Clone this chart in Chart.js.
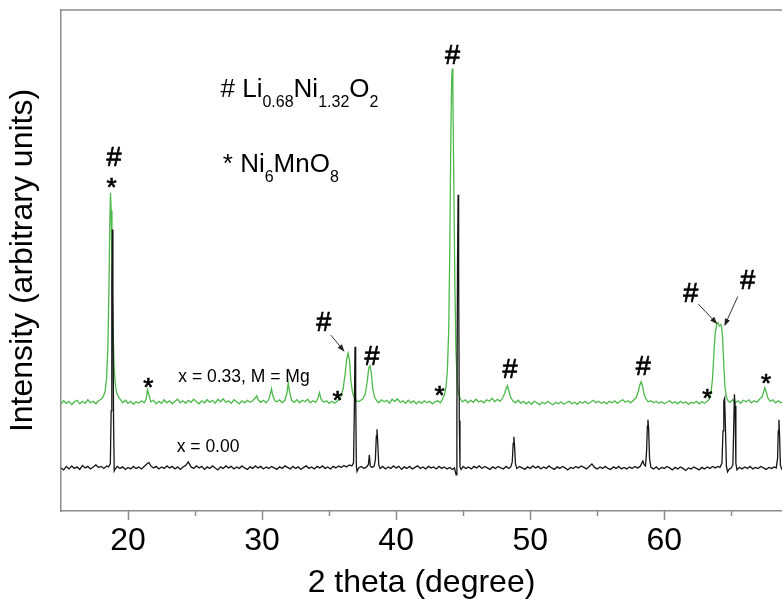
<!DOCTYPE html>
<html>
<head>
<meta charset="utf-8">
<script src="https://cdn.jsdelivr.net/npm/chart.js@4.4.1/dist/chart.umd.min.js"></script>
<style>
  html, body { margin: 0; padding: 0; background: #fff; }
  #wrap { width: 782px; height: 602px; }
</style>
</head>
<body>
<div id="wrap"><canvas id="xrd" width="782" height="602"></canvas></div>
<script>
// 2 theta (deg) vs intensity (a.u.)
const mgDopedScan = [
  [15.0, 21.4], [15.2, 22.0], [15.4, 21.5], [15.6, 21.9], [15.8, 21.2], [16.0, 21.8], [16.2, 22.1], [16.4, 21.4],
  [16.6, 21.9], [16.8, 21.5], [17.0, 22.2], [17.2, 21.6], [17.4, 21.9], [17.6, 21.4], [17.8, 22.0], [18.0, 22.3],
  [18.15, 22.8], [18.3, 24.0], [18.4, 26.5], [18.5, 33], [18.58, 45], [18.64, 57], [18.69, 63.5], [18.74, 60],
  [18.8, 50], [18.88, 37], [18.96, 29], [19.05, 25.2], [19.15, 23.6], [19.3, 22.7], [19.45, 22.2], [19.6, 21.6],
  [19.8, 22.1], [20.0, 21.5], [20.2, 21.9], [20.4, 21.3], [20.6, 21.8], [20.8, 21.5], [21.0, 22.0], [21.2, 21.6],
  [21.35, 22.3], [21.45, 24.2], [21.55, 23.3], [21.7, 21.8], [21.9, 22.1], [22.1, 21.4], [22.3, 21.9], [22.5, 21.5],
  [22.7, 22.2], [22.9, 21.6], [23.1, 22.0], [23.3, 21.4], [23.5, 21.9], [23.7, 22.3], [23.9, 21.6], [24.1, 22.0],
  [24.3, 21.5], [24.5, 22.1], [24.7, 21.7], [24.9, 22.3], [25.1, 21.8], [25.3, 21.4], [25.5, 22.0], [25.7, 21.6],
  [25.9, 22.2], [26.1, 21.7], [26.3, 22.1], [26.5, 21.5], [26.7, 22.3], [26.9, 21.8], [27.1, 22.4], [27.3, 21.7],
  [27.5, 22.0], [27.7, 21.5], [27.9, 22.2], [28.1, 21.8], [28.3, 21.4], [28.5, 22.0], [28.7, 21.6], [28.9, 22.1],
  [29.1, 21.7], [29.3, 22.0], [29.5, 22.6], [29.6, 23.0], [29.7, 22.2], [29.9, 21.7], [30.1, 22.1], [30.3, 21.6],
  [30.5, 22.3], [30.62, 23.4], [30.7, 24.4], [30.8, 23.0], [30.95, 22.0], [31.1, 21.8], [31.3, 22.2], [31.5, 21.6],
  [31.7, 22.1], [31.85, 23.5], [31.95, 25.6], [32.05, 23.8], [32.2, 22.1], [32.4, 21.7], [32.6, 22.2], [32.8, 21.6],
  [33.0, 22.1], [33.2, 21.8], [33.4, 22.3], [33.6, 21.6], [33.8, 22.0], [34.0, 21.7], [34.15, 22.4], [34.28, 23.6],
  [34.4, 22.3], [34.6, 21.7], [34.8, 22.0], [35.0, 21.5], [35.2, 21.9], [35.4, 21.5], [35.6, 21.9], [35.75, 22.4],
  [35.9, 23.0], [36.05, 24.5], [36.2, 27.5], [36.32, 30.5], [36.42, 31.5], [36.52, 30.0], [36.62, 26.0], [36.75, 23.6],
  [36.9, 22.5], [37.05, 22.0], [37.2, 21.8], [37.35, 22.1], [37.5, 22.3], [37.7, 23.4], [37.85, 26.0], [37.96, 28.6],
  [38.05, 29.0], [38.15, 27.5], [38.25, 24.5], [38.38, 22.8], [38.55, 22.0], [38.7, 21.6], [38.9, 22.2], [39.1, 21.8],
  [39.3, 22.1], [39.5, 21.5], [39.7, 22.3], [39.9, 21.9], [40.1, 22.4], [40.3, 21.7], [40.5, 22.0], [40.7, 21.5],
  [40.9, 22.1], [41.1, 21.6], [41.3, 22.0], [41.5, 21.4], [41.7, 21.9], [41.9, 21.5], [42.1, 22.0], [42.3, 21.6],
  [42.5, 21.9], [42.7, 21.4], [42.9, 21.8], [43.1, 22.0], [43.3, 21.6], [43.45, 22.3], [43.6, 23.2], [43.72, 24.8],
  [43.82, 28], [43.92, 36], [44.0, 52], [44.08, 75], [44.14, 86], [44.18, 88.3], [44.23, 84], [44.3, 66],
  [44.38, 45], [44.46, 32], [44.55, 26], [44.65, 23.5], [44.78, 22.4], [44.95, 21.8], [45.15, 22.2], [45.35, 21.6],
  [45.55, 22.1], [45.75, 21.7], [45.95, 22.3], [46.15, 21.8], [46.35, 22.0], [46.55, 21.6], [46.75, 22.2], [46.95, 21.9],
  [47.15, 22.5], [47.35, 21.8], [47.55, 22.3], [47.75, 21.9], [47.95, 22.6], [48.1, 23.5], [48.22, 24.6], [48.3, 25.0],
  [48.4, 24.0], [48.52, 22.8], [48.7, 22.0], [48.9, 21.6], [49.1, 22.1], [49.3, 21.5], [49.5, 21.9], [49.7, 21.4],
  [49.9, 21.8], [50.1, 21.3], [50.3, 21.9], [50.5, 21.6], [50.7, 21.2], [50.9, 21.7], [51.1, 21.4], [51.3, 21.9],
  [51.5, 21.5], [51.7, 21.2], [51.9, 21.7], [52.1, 21.4], [52.3, 21.8], [52.5, 21.3], [52.7, 21.6], [52.9, 21.9],
  [53.1, 21.4], [53.3, 21.7], [53.5, 21.3], [53.7, 21.8], [53.9, 21.5], [54.1, 21.9], [54.3, 21.4], [54.5, 21.7],
  [54.7, 22.1], [54.9, 21.6], [55.1, 21.9], [55.3, 21.5], [55.5, 21.8], [55.7, 21.4], [55.9, 21.9], [56.1, 21.6],
  [56.3, 22.0], [56.5, 21.5], [56.7, 21.9], [56.9, 22.2], [57.1, 21.7], [57.3, 22.0], [57.5, 21.6], [57.7, 22.1],
  [57.9, 22.6], [58.05, 23.8], [58.18, 25.2], [58.27, 25.8], [58.38, 24.9], [58.5, 23.2], [58.65, 22.3], [58.8, 21.8],
  [59.0, 22.0], [59.2, 21.6], [59.4, 21.9], [59.6, 21.5], [59.8, 21.8], [60.0, 21.4], [60.2, 21.7], [60.4, 22.0],
  [60.6, 21.5], [60.8, 21.8], [61.0, 21.4], [61.2, 21.9], [61.4, 21.5], [61.6, 21.8], [61.8, 21.3], [62.0, 21.7],
  [62.2, 21.5], [62.4, 21.9], [62.6, 21.4], [62.8, 21.8], [63.0, 21.5], [63.2, 21.9], [63.35, 22.3], [63.48, 23.5],
  [63.6, 26.5], [63.7, 31.5], [63.8, 35.5], [63.92, 37.4], [64.0, 37.6], [64.1, 36.9], [64.2, 37.2], [64.28, 36.8],
  [64.36, 34], [64.44, 29], [64.52, 25], [64.62, 22.8], [64.75, 22.0], [64.9, 21.7], [65.1, 22.2], [65.3, 21.6],
  [65.5, 22.0], [65.7, 21.5], [65.9, 22.1], [66.1, 21.8], [66.3, 22.2], [66.5, 21.6], [66.7, 22.0], [66.9, 21.7],
  [67.1, 22.3], [67.3, 22.8], [67.42, 23.9], [67.5, 24.6], [67.6, 23.8], [67.72, 22.6], [67.9, 21.9], [68.1, 22.2],
  [68.3, 21.6], [68.5, 22.0], [68.7, 21.6], [68.9, 21.9]
];

const pristineScan = [
  [15.0, 8.6], [15.2, 8.2], [15.4, 8.9], [15.6, 8.4], [15.8, 9.0], [16.0, 8.5], [16.2, 8.8], [16.4, 8.3],
  [16.6, 9.1], [16.8, 8.6], [17.0, 8.9], [17.2, 8.4], [17.4, 8.8], [17.6, 9.2], [17.8, 8.7], [18.0, 8.9],
  [18.2, 8.5], [18.4, 9.0], [18.55, 8.8], [18.68, 9.4], [18.74, 20], [18.79, 45], [18.83, 56.2], [18.87, 44],
  [18.92, 18], [18.97, 8.0], [19.05, 8.4], [19.2, 8.9], [19.4, 8.5], [19.6, 8.8], [19.8, 8.3], [20.0, 8.7],
  [20.2, 8.4], [20.4, 8.9], [20.6, 8.5], [20.8, 8.8], [21.0, 8.4], [21.2, 8.9], [21.4, 9.4], [21.55, 9.7],
  [21.7, 9.0], [21.9, 8.6], [22.1, 8.9], [22.3, 8.4], [22.5, 8.8], [22.7, 8.5], [22.9, 9.0], [23.1, 8.6],
  [23.3, 8.9], [23.5, 8.4], [23.7, 8.8], [23.9, 8.3], [24.1, 8.8], [24.3, 9.1], [24.5, 9.8], [24.7, 8.8],
  [24.9, 8.5], [25.1, 9.0], [25.3, 8.6], [25.5, 8.9], [25.7, 8.3], [25.9, 8.8], [26.1, 8.5], [26.3, 9.0],
  [26.5, 8.6], [26.7, 8.2], [26.9, 8.8], [27.1, 8.5], [27.3, 9.0], [27.5, 8.6], [27.7, 8.9], [27.9, 8.4],
  [28.1, 8.8], [28.3, 8.5], [28.5, 9.0], [28.7, 8.6], [28.9, 8.3], [29.1, 8.8], [29.3, 8.5], [29.5, 9.0],
  [29.7, 8.6], [29.9, 8.9], [30.1, 8.4], [30.3, 8.8], [30.5, 8.5], [30.7, 8.9], [30.9, 8.6], [31.1, 8.3],
  [31.3, 8.8], [31.5, 8.5], [31.7, 9.0], [31.9, 8.7], [32.1, 8.4], [32.3, 8.9], [32.5, 8.5], [32.7, 8.8],
  [32.9, 8.3], [33.1, 8.7], [33.3, 9.0], [33.5, 8.5], [33.7, 8.8], [33.9, 8.4], [34.1, 8.9], [34.3, 8.6],
  [34.5, 9.0], [34.7, 8.5], [34.9, 8.8], [35.1, 8.4], [35.3, 8.9], [35.5, 8.6], [35.7, 9.0], [35.9, 8.7],
  [36.1, 9.1], [36.3, 8.8], [36.5, 9.2], [36.7, 9.0], [36.82, 9.6], [36.88, 20], [36.93, 32.8], [36.98, 24],
  [37.03, 9.0], [37.08, 7.9], [37.2, 8.6], [37.4, 8.9], [37.6, 8.5], [37.8, 8.8], [37.93, 9.3], [38.0, 11.2],
  [38.07, 9.0], [38.2, 8.7], [38.35, 8.9], [38.45, 10.2], [38.52, 15], [38.57, 16.3], [38.62, 14], [38.7, 9.2],
  [38.8, 8.5], [39.0, 8.9], [39.2, 8.4], [39.4, 8.8], [39.6, 8.5], [39.8, 9.0], [40.0, 8.6], [40.2, 8.9],
  [40.4, 8.3], [40.6, 8.8], [40.8, 8.5], [41.0, 8.9], [41.2, 8.4], [41.4, 8.7], [41.6, 9.0], [41.8, 8.5],
  [42.0, 8.8], [42.2, 8.4], [42.4, 8.9], [42.6, 8.6], [42.8, 8.8], [43.0, 8.4], [43.2, 8.9], [43.4, 8.5],
  [43.6, 8.8], [43.8, 8.4], [44.0, 8.7], [44.2, 8.3], [44.35, 8.6], [44.47, 7.2], [44.53, 20], [44.58, 50],
  [44.62, 63.1], [44.66, 48], [44.71, 18], [44.76, 8.8], [44.85, 8.3], [45.0, 8.9], [45.2, 8.5], [45.4, 8.8],
  [45.6, 8.4], [45.8, 8.9], [46.0, 8.6], [46.2, 9.0], [46.4, 8.5], [46.6, 8.9], [46.8, 8.6], [47.0, 8.3],
  [47.2, 8.8], [47.4, 8.5], [47.6, 8.9], [47.8, 8.6], [48.0, 8.4], [48.2, 8.9], [48.4, 8.5], [48.55, 8.8],
  [48.66, 9.8], [48.73, 13.5], [48.78, 14.8], [48.83, 13], [48.9, 9.4], [49.0, 8.5], [49.2, 8.9], [49.4, 8.6],
  [49.6, 8.3], [49.8, 8.8], [50.0, 8.5], [50.2, 9.0], [50.4, 8.6], [50.6, 8.9], [50.8, 8.4], [51.0, 8.8],
  [51.2, 8.5], [51.4, 9.0], [51.6, 8.6], [51.8, 8.3], [52.0, 8.8], [52.2, 8.5], [52.4, 8.9], [52.6, 8.6],
  [52.8, 8.2], [53.0, 8.7], [53.2, 8.5], [53.4, 8.9], [53.6, 8.6], [53.8, 9.0], [54.0, 8.7], [54.2, 8.4],
  [54.4, 8.9], [54.6, 9.4], [54.8, 8.7], [55.0, 8.4], [55.2, 8.8], [55.4, 8.5], [55.6, 8.9], [55.8, 8.5],
  [56.0, 8.3], [56.2, 8.8], [56.4, 8.5], [56.6, 8.9], [56.8, 8.4], [57.0, 8.7], [57.2, 8.4], [57.4, 8.8],
  [57.6, 8.5], [57.8, 8.9], [58.0, 8.6], [58.2, 8.9], [58.4, 10.0], [58.5, 9.2], [58.6, 9.0], [58.68, 12],
  [58.74, 17], [58.78, 18.2], [58.83, 16.5], [58.9, 10.5], [59.0, 8.7], [59.2, 8.4], [59.4, 8.8], [59.6, 8.3],
  [59.8, 8.7], [60.0, 8.5], [60.2, 8.9], [60.4, 8.6], [60.6, 8.2], [60.8, 8.7], [61.0, 8.4], [61.2, 8.8],
  [61.4, 8.5], [61.6, 8.1], [61.8, 8.6], [62.0, 8.4], [62.2, 8.8], [62.4, 8.5], [62.6, 8.2], [62.8, 8.7],
  [63.0, 8.4], [63.2, 8.8], [63.4, 8.5], [63.6, 8.9], [63.8, 8.6], [64.0, 8.9], [64.15, 8.7], [64.3, 9.5],
  [64.38, 16], [64.44, 22], [64.5, 22.5], [64.56, 17], [64.63, 9.0], [64.72, 7.8], [64.82, 8.3], [65.0, 8.6],
  [65.12, 9.3], [65.18, 17], [65.23, 23.3], [65.28, 21], [65.34, 9.5], [65.42, 8.2], [65.6, 8.7], [65.8, 8.4],
  [66.0, 8.8], [66.2, 8.5], [66.4, 8.9], [66.6, 8.4], [66.8, 8.7], [67.0, 8.5], [67.2, 8.9], [67.4, 8.6],
  [67.6, 8.3], [67.8, 8.7], [68.0, 8.5], [68.2, 8.8], [68.35, 8.6], [68.45, 10.5], [68.5, 16], [68.55, 18.2],
  [68.6, 15], [68.66, 9.2], [68.75, 8.4], [68.9, 8.7]
];

const xLabelTicks = [20, 30, 40, 50, 60];
const xMinorTicks = [25, 35, 45, 55, 65];

// phase markers, anchored at [2theta, intensity] (text baseline)
const hashMarks = [[18.95, 68.9], [34.6, 35.9], [38.2, 29.1], [44.2, 89.2], [48.49, 26.5], [58.43, 27.1], [61.97, 41.8], [66.22, 44.3]];
const starMarks = [[18.78, 62.9], [21.51, 23.0], [35.63, 20.4], [43.24, 21.4], [63.21, 20.8], [67.59, 23.8]];
const markerArrows = [
  [[35.13, 35.1], [36.15, 31.8]],
  [[62.54, 41.3], [63.96, 37.3]],
  [[65.48, 42.8], [64.48, 36.9]]
];

const FONT = '"Liberation Sans", Arial, Helvetica, sans-serif';
const AXIS_GREY = '#8c8c8c';

function drawFormula(ctx, x, y, parts, size, subSize) {
  let cx = x;
  parts.forEach(([text, sub]) => {
    ctx.font = `${sub ? subSize : size}px ${FONT}`;
    ctx.fillText(text, cx, sub ? y + subSize * 0.62 : y);
    cx += ctx.measureText(text).width;
  });
}

function drawArrow(ctx, x1, y1, x2, y2) {
  const ang = Math.atan2(y2 - y1, x2 - x1);
  const head = 8;
  ctx.beginPath();
  ctx.moveTo(x1, y1);
  ctx.lineTo(x2 - Math.cos(ang) * head * 0.8, y2 - Math.sin(ang) * head * 0.8);
  ctx.stroke();
  ctx.beginPath();
  ctx.moveTo(x2, y2);
  ctx.lineTo(x2 - head * Math.cos(ang - 0.35), y2 - head * Math.sin(ang - 0.35));
  ctx.lineTo(x2 - head * Math.cos(ang + 0.35), y2 - head * Math.sin(ang + 0.35));
  ctx.closePath();
  ctx.fill();
}

// heavier glyph, the scanned figure has slightly bold markers
function markText(ctx, text, x, y) {
  ctx.fillText(text, x, y);
  ctx.strokeText(text, x, y);
}

const decorPlugin = {
  id: 'xrdDecor',
  afterDraw(chart) {
    const { ctx, chartArea, scales } = chart;
    const sx = scales.x;
    const sy = scales.y;
    ctx.save();

    // frame top line and tick marks
    ctx.strokeStyle = AXIS_GREY;
    ctx.lineWidth = 1.5;
    ctx.beginPath();
    ctx.moveTo(chartArea.left, chartArea.top);
    ctx.lineTo(chart.width, chartArea.top);
    ctx.stroke();
    ctx.beginPath();
    xLabelTicks.forEach((v) => {
      const px = Math.round(sx.getPixelForValue(v)) + 0.5;
      ctx.moveTo(px, chartArea.bottom);
      ctx.lineTo(px, chartArea.bottom + 9);
    });
    xMinorTicks.forEach((v) => {
      const px = Math.round(sx.getPixelForValue(v)) + 0.5;
      ctx.moveTo(px, chartArea.bottom);
      ctx.lineTo(px, chartArea.bottom + 5);
    });
    ctx.stroke();

    ctx.fillStyle = '#000';
    ctx.strokeStyle = '#000';
    ctx.lineWidth = 0.7;
    ctx.textAlign = 'center';
    ctx.textBaseline = 'alphabetic';
    ctx.font = `27px ${FONT}`;
    hashMarks.forEach(([a, b]) => markText(ctx, '#', sx.getPixelForValue(a), sy.getPixelForValue(b)));
    ctx.font = `26px ${FONT}`;
    starMarks.forEach(([a, b]) => markText(ctx, '*', sx.getPixelForValue(a), sy.getPixelForValue(b)));

    ctx.strokeStyle = '#333';
    ctx.fillStyle = '#222';
    ctx.lineWidth = 1;
    markerArrows.forEach(([p, q]) => {
      drawArrow(ctx, sx.getPixelForValue(p[0]), sy.getPixelForValue(p[1]),
        sx.getPixelForValue(q[0]), sy.getPixelForValue(q[1]));
    });

    // sample labels
    ctx.fillStyle = '#000';
    ctx.textAlign = 'left';
    ctx.font = `17.5px ${FONT}`;
    ctx.fillText('x = 0.33, M = Mg', sx.getPixelForValue(23.75), sy.getPixelForValue(25.75));
    ctx.fillText('x = 0.00', sx.getPixelForValue(23.63), sy.getPixelForValue(11.8));

    // phase key
    drawFormula(ctx, sx.getPixelForValue(26.9), sy.getPixelForValue(82.6),
      [['# Li', false], ['0.68', true], ['Ni', false], ['1.32', true], ['O', false], ['2', true]], 26, 16);
    drawFormula(ctx, sx.getPixelForValue(27.07), sy.getPixelForValue(67.7),
      [['* Ni', false], ['6', true], ['MnO', false], ['8', true]], 26, 16);

    ctx.restore();
  }
};

new Chart(document.getElementById('xrd'), {
  type: 'scatter',
  data: {
    datasets: [
      {
        label: 'x = 0.00',
        data: pristineScan.map(([x, y]) => ({ x, y })),
        showLine: true,
        borderColor: '#161616',
        borderWidth: 1.3,
        pointRadius: 0,
        tension: 0
      },
      {
        label: 'x = 0.33, M = Mg',
        data: mgDopedScan.map(([x, y]) => ({ x, y })),
        showLine: true,
        borderColor: '#4cb94a',
        borderWidth: 1.3,
        pointRadius: 0,
        tension: 0
      }
    ]
  },
  options: {
    responsive: false,
    animation: false,
    devicePixelRatio: 1,
    layout: { padding: { top: 10, right: 0, left: 0, bottom: 0 } },
    plugins: {
      legend: { display: false },
      tooltip: { enabled: false }
    },
    scales: {
      x: {
        type: 'linear',
        position: 'bottom',
        min: 15,
        max: 68.78,
        grid: { display: false, drawTicks: false },
        border: { display: true, color: AXIS_GREY, width: 1.5 },
        afterBuildTicks: (axis) => { axis.ticks = xLabelTicks.map((v) => ({ value: v })); },
        afterFit: (axis) => { axis.height = 91; },
        ticks: {
          color: '#000',
          padding: 11,
          maxRotation: 0,
          font: { family: FONT, size: 32 },
          callback: (v) => String(v)
        },
        title: {
          display: true,
          text: '2 theta (degree)',
          color: '#000',
          font: { family: FONT, size: 32 },
          padding: { top: 0, bottom: 0 }
        }
      },
      y: {
        type: 'linear',
        min: 0,
        max: 100,
        grid: { display: false, drawTicks: false },
        border: { display: true, color: AXIS_GREY, width: 1.5 },
        ticks: { display: false },
        afterFit: (axis) => { axis.width = 61; },
        title: {
          display: true,
          text: 'Intensity (arbitrary units)',
          color: '#000',
          font: { family: FONT, size: 32 },
          padding: { top: 4, bottom: 0 }
        }
      }
    }
  },
  plugins: [decorPlugin]
});
</script>
</body>
</html>
